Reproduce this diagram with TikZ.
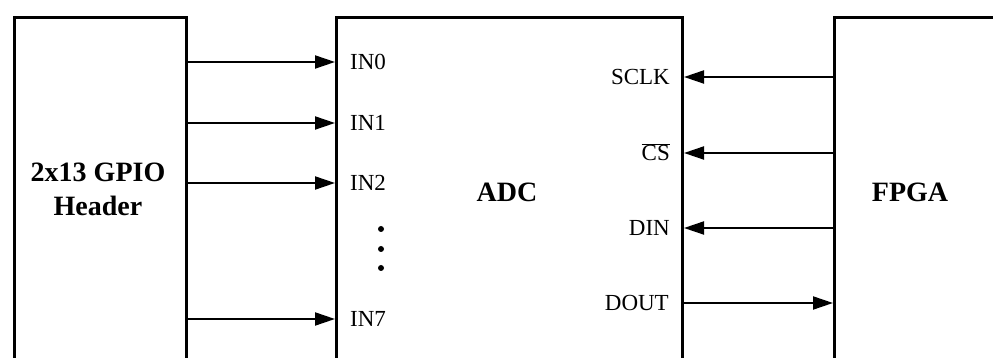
\documentclass[tikz,border=0pt]{standalone}
\usepackage{fontspec}
\setmainfont{Liberation Serif}
\usetikzlibrary{arrows.meta}
\tikzset{
  block/.style={draw, line width=3pt, inner sep=0pt, anchor=north west},
  arr/.style={line width=2pt, -{Triangle[length=20pt,width=13pt]}},
  pin/.style={font=\fontsize{23}{27}\selectfont, inner sep=0pt},
  title/.style={font=\fontsize{28}{34}\selectfont\bfseries, align=center, inner sep=0pt}
}
\begin{document}
\begin{tikzpicture}[x=1pt,y=1pt]
\useasboundingbox (0,0) rectangle (993,358);
\clip (0,0) rectangle (993,358);
% blocks (open at bottom: extend below the frame)
\node[block, minimum width=172.5pt, minimum height=362pt] (gpio) at (12.5,342) {};
\node[block, minimum width=346pt, minimum height=362pt] (adc) at (335,342) {};
\node[block, minimum width=200pt, minimum height=362pt] (fpga) at (833,342) {};
% titles
\node[title] (gpiot) at (98,169) {2x13 GPIO\\Header};
\node[title] (adct) at (507,166) {ADC};
\node[title] (fpgat) at (910,166) {FPGA};
% signal heights
\coordinate (y0) at (0,296);
\coordinate (y1) at (0,235);
\coordinate (y2) at (0,175);
\coordinate (y7) at (0,39);
\coordinate (ys) at (0,281);
\coordinate (yc) at (0,205);
\coordinate (yd) at (0,130);
\coordinate (yo) at (0,55);
% input arrows
\foreach \c/\t in {y0/IN0, y1/IN1, y2/IN2, y7/IN7}{
  \draw[arr] (gpio.east |- \c) -- (adc.west |- \c);
  \node[pin, anchor=base west] (l\c) at ([xshift=15pt,yshift=-7.6pt]adc.west |- \c) {\t};
}
% FPGA side
\foreach \c/\t in {ys/SCLK, yc/$\overline{\mbox{CS}}$, yd/DIN}{
  \draw[arr] (fpga.west |- \c) -- (adc.east |- \c);
  \node[pin, anchor=base east] (l\c) at ([xshift=-14pt,yshift=-7.6pt]adc.east |- \c) {\t};
}
\draw[arr] (adc.east |- yo) -- (fpga.west |- yo);
\node[pin, anchor=base east] (lyo) at ([xshift=-15pt,yshift=-7.6pt]adc.east |- yo) {DOUT};
% dots
\foreach \yy [count=\i] in {129,109,90}{
  \fill (381,\yy) circle (3pt);
}
\end{tikzpicture}
\end{document}
